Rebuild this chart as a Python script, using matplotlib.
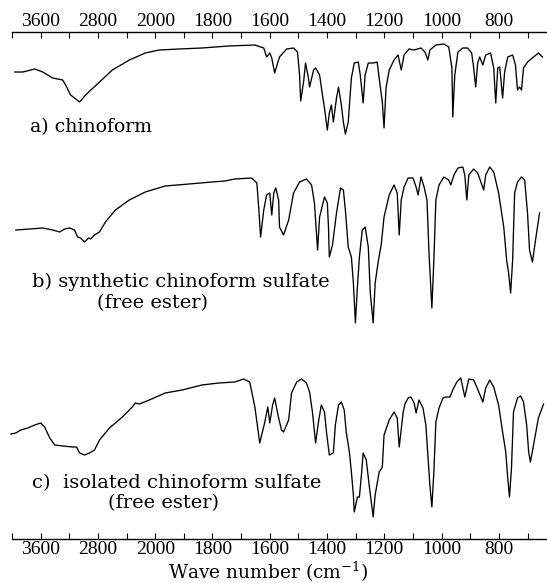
import numpy as np
import matplotlib
matplotlib.use("Agg")
import matplotlib.pyplot as plt

# ---------------- data (wavenumber cm-1, relative transmittance) ----------------
wn_a = [3960, 3849, 3682, 3571, 3432, 3293, 3251, 3182, 3126, 3056, 2973, 2778, 2598, 2361, 2139,
        1986, 1917, 1837, 1743, 1652, 1621, 1611, 1600, 1593, 1583, 1566, 1541, 1517, 1503, 1496,
        1492, 1482, 1475, 1465, 1461, 1447, 1440, 1426, 1416, 1409, 1399, 1392, 1385, 1378, 1367,
        1360, 1350, 1343, 1336, 1326, 1315, 1305, 1291, 1284, 1274, 1267, 1256, 1239, 1225, 1218,
        1207, 1201, 1194, 1183, 1166, 1152, 1141, 1131, 1114, 1096, 1072, 1058, 1048, 1041, 1020,
        992, 975, 964, 961, 954, 943, 926, 909, 895, 888, 881, 874, 867, 856, 846,
        829, 818, 811, 804, 797, 787, 780, 769, 752, 742, 735, 728, 721, 714, 700,
        679, 662, 648]
t_a = [68, 68, 71, 68, 62, 60, 55, 45, 42, 38, 45, 58, 70, 80, 87,
       90, 91, 92, 94, 95, 92, 83, 87, 82, 67, 83, 91, 92, 88, 65,
       39, 58, 77, 62, 53, 70, 72, 65, 45, 32, 10, 27, 35, 18, 42,
       53, 35, 18, 6, 18, 62, 77, 78, 65, 37, 65, 77, 77, 78, 62,
       38, 12, 52, 70, 80, 85, 70, 85, 91, 90, 92, 88, 80, 90, 95,
       96, 93, 72, 23, 65, 88, 92, 92, 87, 72, 53, 77, 83, 75, 85,
       87, 72, 37, 72, 73, 42, 68, 83, 85, 75, 50, 53, 50, 72, 78,
       83, 87, 83]

wn_b = [3946, 3751, 3571, 3432, 3334, 3265, 3195, 3126, 3084, 3043, 2987, 2931, 2904, 2848, 2778,
        2695, 2556, 2361, 2139, 1965, 1882, 1802, 1757, 1722, 1663, 1645, 1638, 1632, 1621, 1611,
        1600, 1593, 1586, 1579, 1569, 1566, 1552, 1534, 1517, 1496, 1472, 1454, 1444, 1433, 1426,
        1409, 1399, 1395, 1392, 1381, 1367, 1353, 1343, 1336, 1326, 1315, 1308, 1301, 1294, 1287,
        1277, 1267, 1256, 1249, 1239, 1232, 1222, 1211, 1201, 1183, 1166, 1155, 1148, 1141, 1131,
        1117, 1100, 1089, 1082, 1072, 1061, 1051, 1044, 1034, 1027, 1020, 1009, 992, 975, 968,
        957, 943, 926, 919, 912, 905, 888, 874, 853, 846, 832, 818, 801, 783, 773,
        766, 759, 752, 745, 735, 721, 710, 700, 693, 683, 672, 658]
t_b = [100, 101, 102, 100, 98, 101, 102, 100, 93, 92, 88, 92, 91, 95, 98,
       108, 120, 130, 138, 144, 146, 148, 149, 151, 152, 147, 120, 93, 120, 135,
       137, 115, 137, 142, 130, 103, 95, 110, 137, 148, 151, 145, 127, 80, 113,
       133, 127, 103, 73, 85, 117, 142, 140, 120, 83, 73, 47, 7, 43, 73,
       100, 103, 83, 37, 7, 47, 67, 85, 113, 135, 145, 137, 95, 130, 143,
       152, 152, 143, 135, 153, 143, 130, 77, 22, 70, 130, 145, 153, 150, 145,
       155, 162, 163, 155, 130, 155, 161, 157, 140, 155, 163, 158, 137, 103, 70,
       57, 37, 70, 137, 148, 153, 150, 117, 80, 68, 90, 117]

wn_c = [4016, 3946, 3877, 3779, 3682, 3599, 3543, 3473, 3404, 3293, 3154, 3098, 3056, 2987, 2917,
        2848, 2778, 2639, 2459, 2320, 2278, 2222, 2083, 1965, 1906, 1837, 1778, 1722, 1691, 1670,
        1652, 1635, 1618, 1607, 1600, 1590, 1583, 1569, 1559, 1552, 1534, 1524, 1506, 1489, 1472,
        1461, 1451, 1440, 1430, 1420, 1409, 1402, 1392, 1378, 1371, 1360, 1350, 1340, 1333, 1322,
        1315, 1308, 1305, 1294, 1287, 1280, 1274, 1263, 1253, 1239, 1232, 1218, 1207, 1201, 1183,
        1166, 1155, 1148, 1134, 1128, 1117, 1107, 1096, 1089, 1079, 1065, 1055, 1048, 1041, 1034,
        1027, 1020, 1009, 995, 985, 971, 961, 947, 933, 919, 905, 888, 870, 856, 846,
        832, 818, 801, 787, 776, 770, 763, 756, 749, 735, 724, 714, 703, 696, 690,
        679, 662, 644]
t_c = [91, 92, 95, 97, 100, 102, 98, 87, 80, 79, 78, 78, 72, 70, 72,
       75, 85, 97, 108, 118, 122, 121, 125, 132, 135, 140, 142, 143, 146, 143,
       118, 82, 102, 118, 102, 120, 127, 107, 95, 93, 105, 132, 143, 146, 142,
       133, 113, 82, 103, 120, 113, 93, 70, 72, 100, 120, 123, 115, 93, 73,
       53, 30, 13, 28, 28, 50, 72, 65, 40, 8, 30, 53, 58, 90, 105,
       113, 107, 78, 113, 121, 127, 128, 122, 112, 125, 117, 100, 70, 40, 18,
       53, 103, 117, 127, 128, 128, 135, 143, 147, 128, 146, 145, 133, 123, 137,
       145, 138, 120, 93, 73, 50, 28, 57, 113, 127, 129, 123, 100, 73, 63,
       80, 107, 121]

tick_values = [4000, 3600, 3200, 2800, 2400, 2000, 1900, 1800, 1700, 1600, 1500, 1400,
               1300, 1200, 1100, 1000, 900, 800, 700]
tick_labels = ["", "3600", "", "2800", "", "2000", "", "1800", "", "1600", "", "1400",
               "", "1200", "", "1000", "", "800", ""]

labels = ["a) chinoform", "b) synthetic chinoform sulfate", "(free ester)",
          "c)  isolated chinoform sulfate", "(free ester)"]
xlabel = r"Wave number (cm$^{-1}$)"

# ---------------- layout ----------------
W, H = 547, 583
fig = plt.figure(figsize=(W / 100, H / 100), dpi=100)
plt.rcParams['mathtext.fontset'] = 'dejavuserif'

ax_left, ax_right, ax_top, ax_bot = 12, 547, 32, 539
ax = fig.add_axes([ax_left / W, (H - ax_bot) / H, (ax_right - ax_left) / W, (ax_bot - ax_top) / H])


def fwd(w):
    w = np.asarray(w, dtype=float)
    return np.where(w > 2000, 2000 + (w - 2000) / 4.0, w)


def inv(v):
    v = np.asarray(v, dtype=float)
    return np.where(v > 2000, 2000 + (v - 2000) * 4.0, v)


ax.set_xscale('function', functions=(fwd, inv))
ax.set_xlim(4000, 632)
ax.set_ylim(0, ax_bot - ax_top)

offsets = {"a": 399, "b": 209, "c": 14}
for wn, t, key in [(wn_a, t_a, "a"), (wn_b, t_b, "b"), (wn_c, t_c, "c")]:
    ax.plot(wn, np.array(t) + offsets[key], color="black", lw=0.95, clip_on=False,
            solid_joinstyle="round")

for s in ["left", "right"]:
    ax.spines[s].set_visible(False)
for s in ["top", "bottom"]:
    ax.spines[s].set_linewidth(1.0)
ax.set_yticks([])
ax.set_xticks(tick_values)
ax.set_xticklabels(tick_labels)
ax.xaxis.set_minor_locator(matplotlib.ticker.NullLocator())
ax.tick_params(axis="x", which="major", top=True, bottom=True, labeltop=True, labelbottom=True,
               direction="in", length=4, width=0.8, pad=1.5)
for lab in ax.get_xticklabels():
    lab.set_fontfamily("Liberation Serif")
    lab.set_fontsize(14)

serif = "DejaVu Serif"
fs = 14.0


def put(text, xpx, ypx, size=fs):
    fig.text(xpx / W, 1 - ypx / H, text, fontsize=size, family=serif, va="baseline", ha="left")


put(labels[0], 30, 132, 13.6)
put(labels[1], 32, 287)
put(labels[2], 97, 308)
put(labels[3], 32, 488)
put(labels[4], 108, 508)
put(xlabel, 168, 579, 13.4)

fig.savefig("out.png", dpi=100)
